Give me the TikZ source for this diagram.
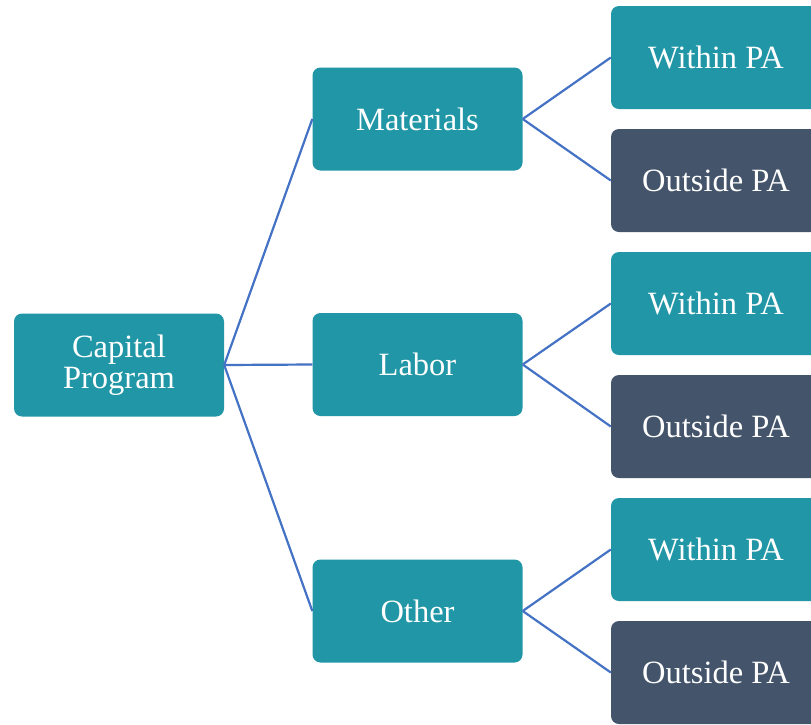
\documentclass[tikz,border=0pt]{standalone}
\usepackage{fontspec}
\setmainfont{LiberationSerif}[Extension=.ttf,UprightFont=*-Regular,BoldFont=*-Bold]
\definecolor{teal1}{HTML}{2196A6}
\definecolor{slate1}{HTML}{44546A}
\definecolor{link1}{HTML}{4472C4}
\begin{document}
\begin{tikzpicture}[x=1pt,y=-1pt,
  box/.style={rectangle,rounded corners=8pt,minimum width=210pt,minimum height=103pt,
    inner sep=0pt,align=center,text=white,font=\fontsize{32.5}{31.5}\selectfont},
  tealbox/.style={box,fill=teal1},
  slatebox/.style={box,fill=slate1},
  link/.style={draw=link1,line width=2.2pt}]
\clip (0,0) rectangle (811,724);
\fill[white] (0,0) rectangle (811,724);
\node[tealbox] (cap) at (119,365) {Capital\\Program};
\node[tealbox] (mat) at (417.5,119) {Materials};
\node[tealbox] (lab) at (417.5,364.5) {Labor};
\node[tealbox] (oth) at (417.5,611) {Other};
\node[tealbox] (w1) at (716,57.5) {Within PA};
\node[slatebox] (o1) at (716,180.5) {Outside PA};
\node[tealbox] (w2) at (716,303.5) {Within PA};
\node[slatebox] (o2) at (716,426.5) {Outside PA};
\node[tealbox] (w3) at (716,549.5) {Within PA};
\node[slatebox] (o3) at (716,672.5) {Outside PA};
\draw[link] (cap.east) -- (mat.west);
\draw[link] (cap.east) -- (lab.west);
\draw[link] (cap.east) -- (oth.west);
\draw[link] (mat.east) -- (w1.west);
\draw[link] (mat.east) -- (o1.west);
\draw[link] (lab.east) -- (w2.west);
\draw[link] (lab.east) -- (o2.west);
\draw[link] (oth.east) -- (w3.west);
\draw[link] (oth.east) -- (o3.west);
\end{tikzpicture}
\end{document}
